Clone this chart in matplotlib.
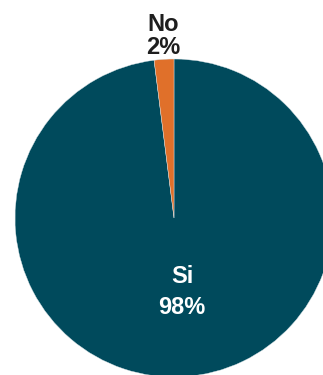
import matplotlib.pyplot as plt

labels = ["Si", "No"]
shares = [98, 2]
colors = ["#004a5c", "#e0702a"]
text_colors = ["white", "#1e1e1e"]

W, H = 323, 375
fig = plt.figure(figsize=(W / 100, H / 100), dpi=100)
fig.patch.set_facecolor("white")

# pie centre and radius in pixels
cx, cy, r = 174, 218, 159
ax = fig.add_axes([(cx - r) / W, (H - cy - r) / H, 2 * r / W, 2 * r / H])

wedges, _ = ax.pie(shares, colors=colors, startangle=90, counterclock=False,
                   radius=1, center=(0, 0), frame=False,
                   wedgeprops=dict(edgecolor="#d8e4e8", linewidth=0.3))
ax.set_xlim(-1, 1)
ax.set_ylim(-1, 1)
ax.set_aspect("equal")
ax.axis("off")

# name and percentage for each slice (x, name y, percent y)
label_pos = {"Si": (0.05, -0.37, -0.565), "No": (-0.07, 1.22, 1.07)}
font = dict(fontsize=17, fontweight="bold", family="Liberation Sans",
            ha="center", va="center", clip_on=False)
for lab, val, tc in zip(labels, shares, text_colors):
    x, y1, y2 = label_pos[lab]
    ax.text(x, y1, lab, color=tc, **font)
    ax.text(x, y2, f"{val}%", color=tc, **font)

fig.savefig("out.png", dpi=100, facecolor="white")
